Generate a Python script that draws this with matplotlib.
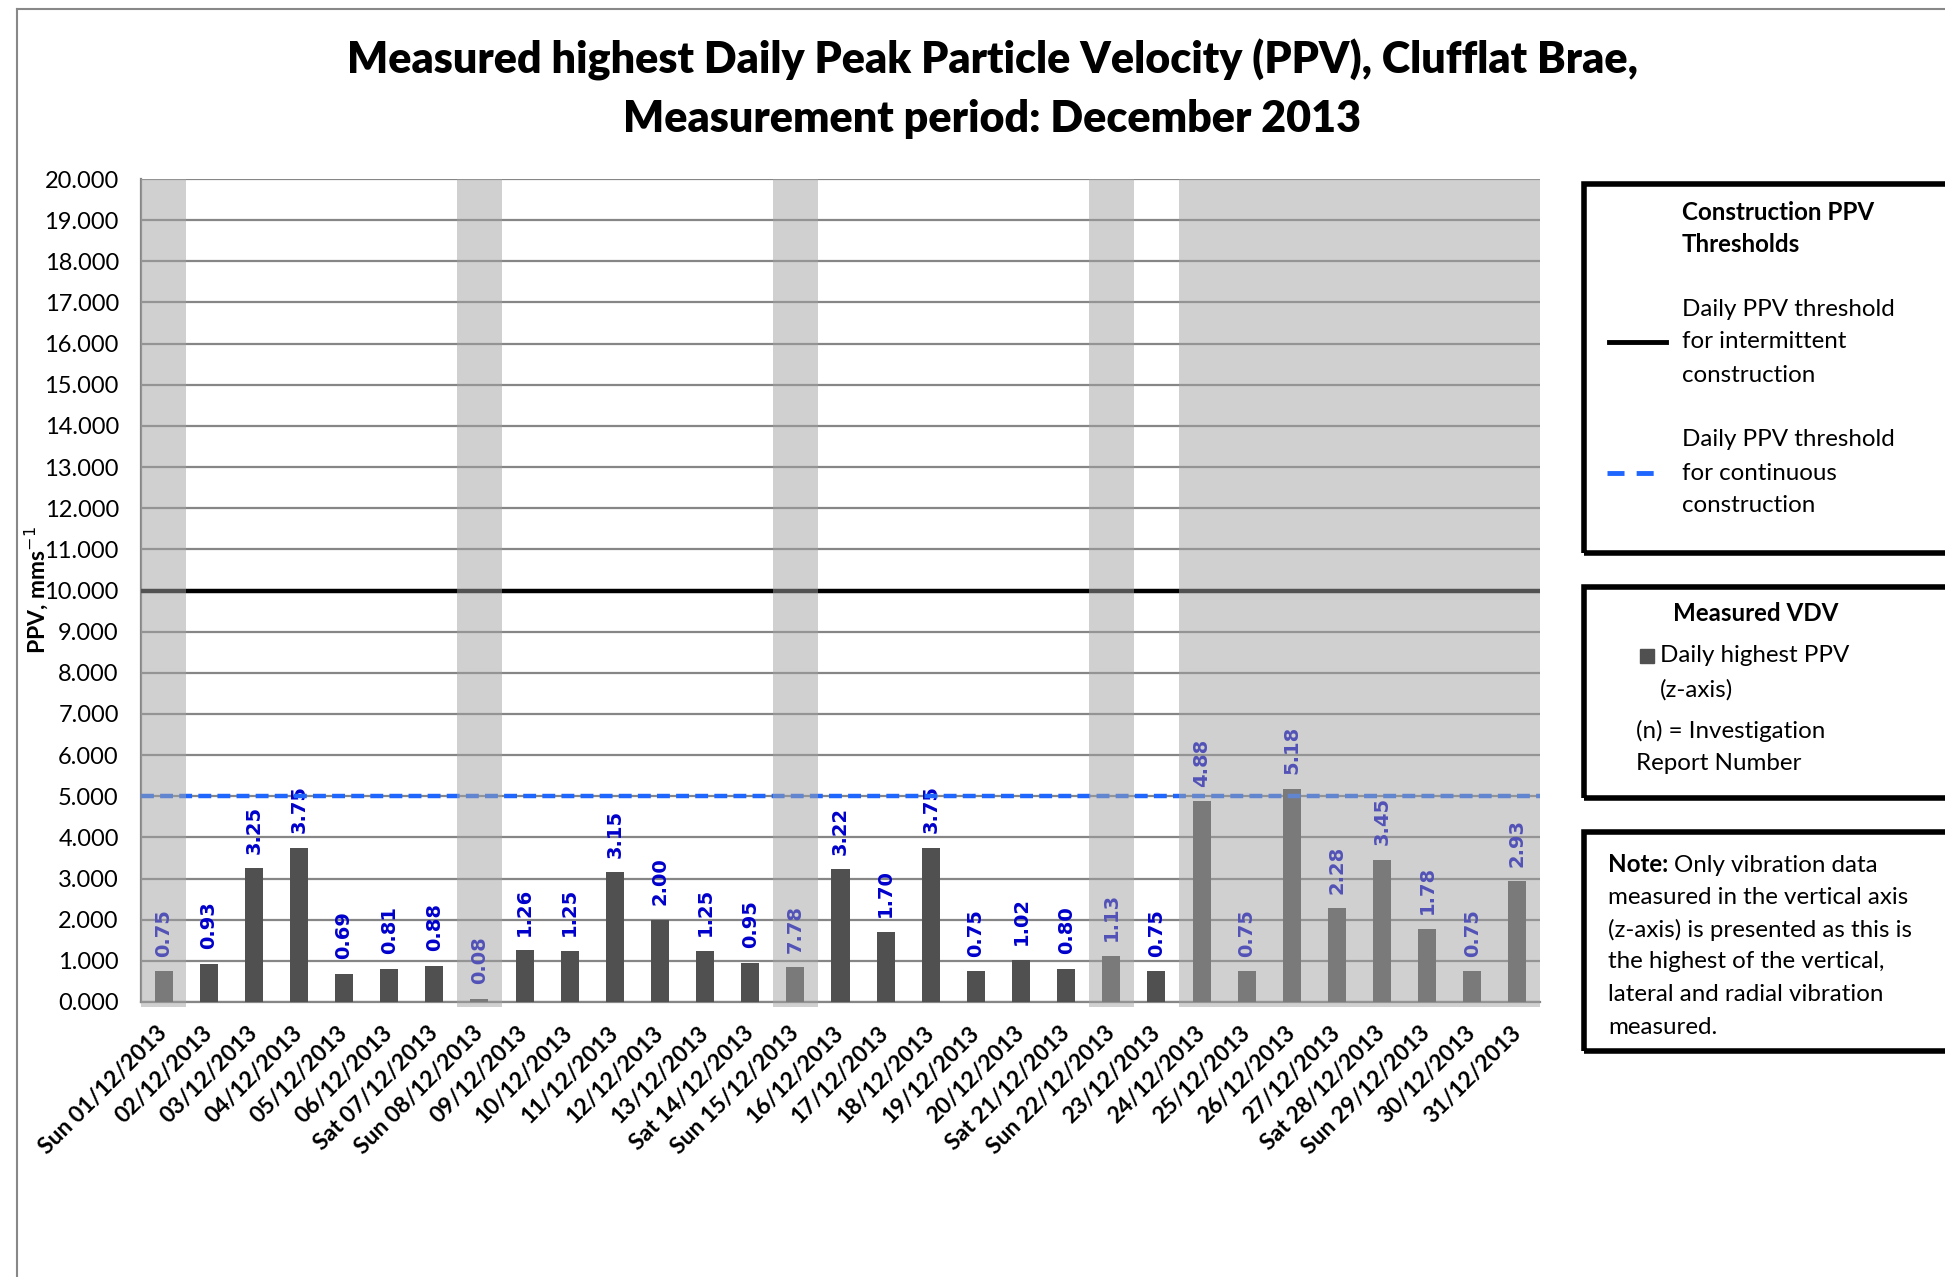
import matplotlib
matplotlib.use("Agg")
import matplotlib.pyplot as plt
from matplotlib.patches import Rectangle
from matplotlib.lines import Line2D

# data
dates = ["Sun 01/12/2013", "02/12/2013", "03/12/2013", "04/12/2013", "05/12/2013",
         "06/12/2013", "Sat 07/12/2013", "Sun 08/12/2013", "09/12/2013", "10/12/2013",
         "11/12/2013", "12/12/2013", "13/12/2013", "Sat 14/12/2013", "Sun 15/12/2013",
         "16/12/2013", "17/12/2013", "18/12/2013", "19/12/2013", "20/12/2013",
         "Sat 21/12/2013", "Sun 22/12/2013", "23/12/2013", "24/12/2013", "25/12/2013",
         "26/12/2013", "27/12/2013", "Sat 28/12/2013", "Sun 29/12/2013", "30/12/2013",
         "31/12/2013"]
ppv = [0.75, 0.93, 3.25, 3.75, 0.69, 0.81, 0.88, 0.08, 1.26, 1.25, 3.15, 2.00, 1.25, 0.95,
       0.84, 3.22, 1.70, 3.75, 0.75, 1.02, 0.80, 1.13, 0.75, 4.88, 0.75, 5.18, 2.28, 3.45,
       1.78, 0.75, 2.93]
ppv_labels = ["0.75", "0.93", "3.25", "3.75", "0.69", "0.81", "0.88", "0.08", "1.26", "1.25",
              "3.15", "2.00", "1.25", "0.95", "7.78", "3.22", "1.70", "3.75", "0.75", "1.02",
              "0.80", "1.13", "0.75", "4.88", "0.75", "5.18", "2.28", "3.45", "1.78", "0.75",
              "2.93"]
# days greyed out (non-working days)
shaded_days = [0, 7, 14, 21, 23, 24, 25, 26, 27, 28, 29, 30]
intermittent_limit = 10.0
continuous_limit = 5.0

W, H = 1945, 1277
plt.rcParams['font.family'] = ['Lato', 'DejaVu Sans']
fig = plt.figure(figsize=(W / 100, H / 100), dpi=100)


def fx(px):
    return px / W


def fy(py):
    return 1 - py / H


ax = fig.add_axes([fx(141), fy(1002), fx(1540) - fx(141), fy(179) - fy(1002)])

x = list(range(len(dates)))
ax.bar(x, ppv, width=0.4, color='#505050', zorder=3)
for xi, v, lab in zip(x, ppv, ppv_labels):
    ax.annotate(lab, (xi, v), xytext=(0, 10.5), textcoords='offset points',
                rotation=90, ha='center', va='bottom', color='#0000CC',
                fontsize=14, fontweight='bold', family='DejaVu Sans', zorder=4)

ax.axhline(intermittent_limit, color='black', lw=3.2, zorder=5)
ax.axhline(continuous_limit, color='#1f66ff', lw=3.2, ls=(0, (2.9, 1.4)), zorder=5)

for d in shaded_days:
    ax.axvspan(d - 0.5, d + 0.5, ymin=-0.006, ymax=1, color='#a3a3a3', alpha=0.51,
               lw=0, zorder=10, clip_on=False)

ax.set_xlim(-0.5, len(dates) - 0.5)
ax.set_ylim(0, 20)
ax.set_yticks(range(0, 21))
ax.set_yticklabels([f"{v:.3f}" for v in range(0, 21)], fontsize=17)
ax.yaxis.grid(True, color='#868686', lw=1.6, zorder=0)
ax.set_axisbelow(True)
ax.tick_params(length=0)
ax.tick_params(axis='y', pad=16)
ax.tick_params(axis='x', pad=20)
ax.set_xticks(x)
ax.set_xticklabels(dates, rotation=45, ha='right', va='center', rotation_mode='anchor',
                   fontsize=16.5, fontweight='bold')
for s in ['top', 'right']:
    ax.spines[s].set_visible(False)
for s in ['left', 'bottom']:
    ax.spines[s].set_color('#868686')
    ax.spines[s].set_linewidth(1.6)

ax.set_ylabel("PPV, mms$^{-1}$", fontsize=16.5, fontweight='bold')
ax.yaxis.set_label_coords((50 - 141) / 1399, 0.5)

fig.text(fx(800 * 1.2404), fy(60), "Measured highest Daily Peak Particle Velocity (PPV), Clufflat Brae,",
         ha='center', va='center', fontsize=31, fontweight='heavy')
fig.text(fx(800 * 1.2404), fy(119), "Measurement period: December 2013",
         ha='center', va='center', fontsize=31, fontweight='heavy')

# outer frame of the chart area
fig.add_artist(Line2D([fx(17), fx(17)], [fy(9), 0], color='#888888', lw=1.5))
fig.add_artist(Line2D([fx(17), 1], [fy(9), fy(9)], color='#888888', lw=1.5))

# legend boxes
for top, bottom in [(184, 553), (587, 798), (832, 1051)]:
    fig.add_artist(Rectangle((fx(1584), fy(bottom)), fx(W + 20) - fx(1584),
                             fy(top) - fy(bottom), transform=fig.transFigure,
                             fill=False, ec='black', lw=4))

fs = 17.4
fig.text(fx(1682), fy(212), "Construction PPV", fontsize=fs, fontweight='bold', va='center')
fig.text(fx(1682), fy(244), "Thresholds", fontsize=fs, fontweight='bold', va='center')
for i, t in enumerate(["Daily PPV threshold", "for intermittent", "construction"]):
    fig.text(fx(1682), fy(309 + 33 * i), t, fontsize=fs, va='center')
fig.add_artist(Line2D([fx(1609), fx(1666)], [fy(342), fy(342)], color='black', lw=3.5))
for i, t in enumerate(["Daily PPV threshold", "for continuous", "construction"]):
    fig.text(fx(1682), fy(440 + 33 * i), t, fontsize=fs, va='center')
fig.add_artist(Line2D([fx(1607), fx(1662)], [fy(473), fy(473)], color='#1f66ff', lw=3.5,
                      ls=(0, (3.5, 2.5))))

fig.text(fx(1756), fy(614), "Measured VDV", fontsize=fs, fontweight='bold', ha='center',
         va='center')
fig.add_artist(Rectangle((fx(1640), fy(663)), fx(14), 14 / H, transform=fig.transFigure,
                         color='#505050'))
fig.text(fx(1660), fy(656), "Daily highest PPV", fontsize=fs, va='center')
fig.text(fx(1660), fy(690), "(z-axis)", fontsize=fs, va='center')
fig.text(fx(1636), fy(731), "(n) = Investigation", fontsize=fs, va='center')
fig.text(fx(1636), fy(763), "Report Number", fontsize=fs, va='center')

note_head = fig.text(fx(1608), fy(865), "Note:", fontsize=fs, fontweight='bold', va='center')
renderer = fig.canvas.get_renderer()
head_end = note_head.get_window_extent(renderer).x1
fig.text(fx(head_end + 6), fy(865), "Only vibration data", fontsize=fs, va='center')
note = ["measured in the vertical axis", "(z-axis) is presented as this is",
        "the highest of the vertical,", "lateral and radial vibration", "measured."]
for i, t in enumerate(note):
    fig.text(fx(1608), fy(897 + 32.5 * i), t, fontsize=fs, va='center')

fig.savefig("out.png", dpi=100)
